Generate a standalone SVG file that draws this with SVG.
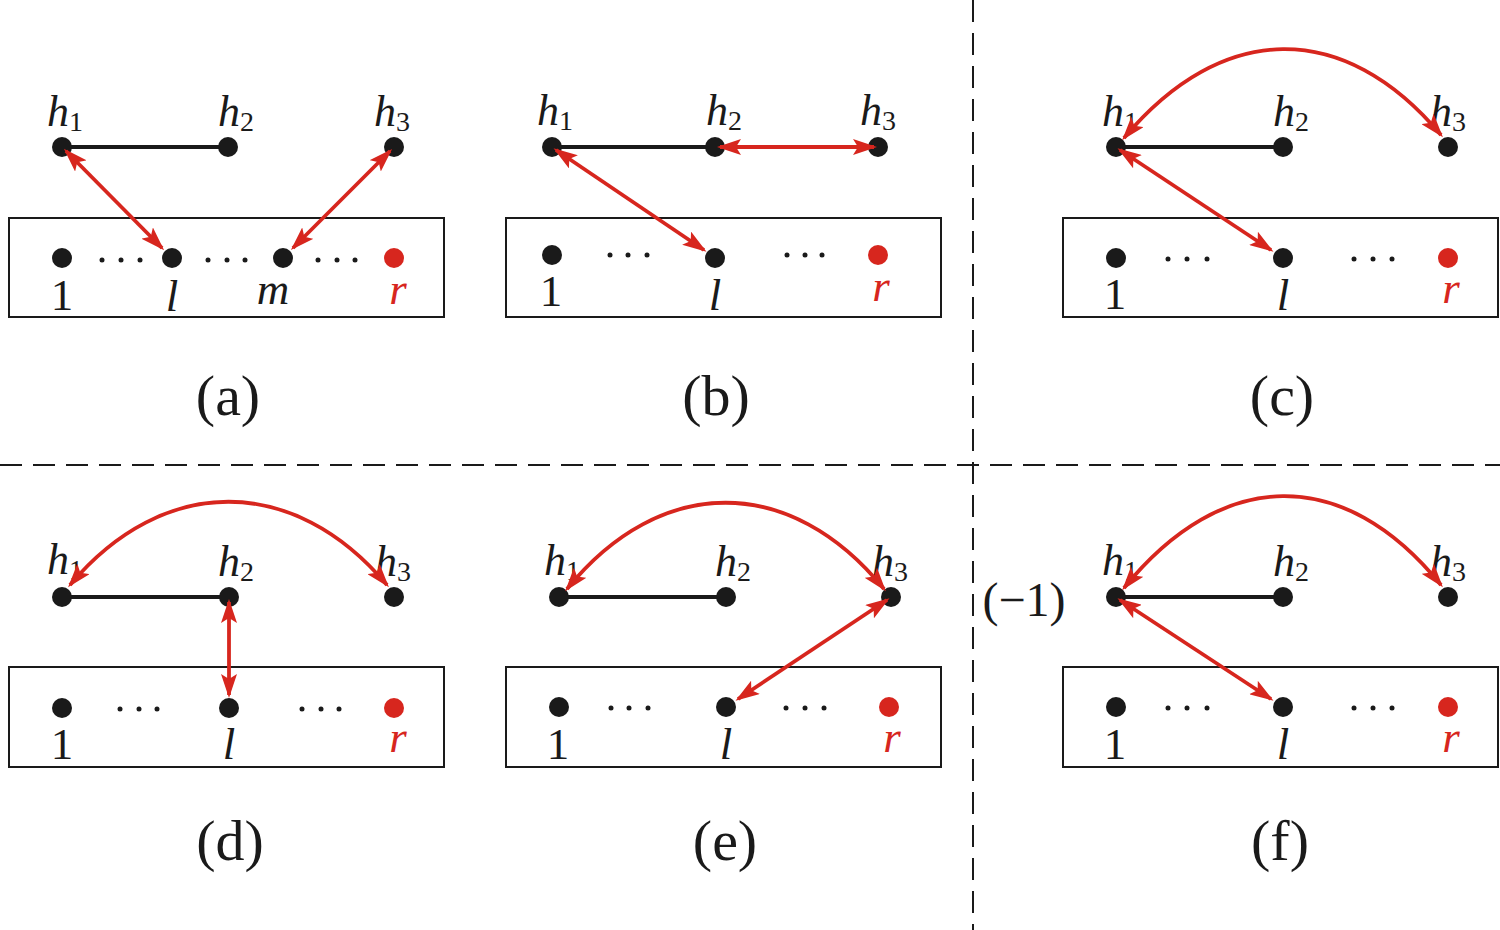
<svg xmlns="http://www.w3.org/2000/svg" width="1500" height="930" viewBox="0 0 1500 930">
<style>
.dot{fill:#1a1a1a}
.rdot{fill:#d7261e}
.sd{fill:#1a1a1a}
.box{fill:none;stroke:#1a1a1a;stroke-width:2}
.edge{stroke:#1a1a1a;stroke-width:4;fill:none}
.arr{stroke:#d7261e;stroke-width:3.8;fill:none;marker-start:url(#ah);marker-end:url(#ah)}
.dash{stroke:#1a1a1a;stroke-width:2;stroke-dasharray:22 11;fill:none}
.h{font-family:"Liberation Serif","Times New Roman",serif;font-style:italic;font-size:44px;fill:#1a1a1a}
.sub{font-style:normal;font-size:28px}
.n{font-family:"Liberation Serif","Times New Roman",serif;font-size:45px;fill:#1a1a1a;text-anchor:middle}
.it{font-family:"Liberation Serif","Times New Roman",serif;font-style:italic;font-size:45px;fill:#1a1a1a;text-anchor:middle}
.red{fill:#d7261e}
.cap{font-family:"Liberation Serif","Times New Roman",serif;font-size:58px;fill:#1a1a1a;text-anchor:middle}
</style>
<defs>
<marker id="ah" viewBox="0 0 24 16" refX="21" refY="8" markerWidth="24" markerHeight="16" markerUnits="userSpaceOnUse" orient="auto-start-reverse">
<path d="M0,0 L24,8 L0,16 L5,8 z" fill="#d7261e"/>
</marker>
</defs>
<rect width="1500" height="930" fill="#ffffff"/>

<g id="dividers">
<line class="dash" x1="0" y1="465" x2="1500" y2="465"/>
<line class="dash" x1="973" y1="0" x2="973" y2="930"/>
</g>

<!-- Panel (a) -->
<g id="panel-a">
<rect class="box" x="9" y="218" width="435" height="99"/>
<line class="edge" x1="62" y1="147" x2="228" y2="147"/>
<circle class="dot" cx="62" cy="147" r="10"/>
<circle class="dot" cx="228" cy="147" r="10"/>
<circle class="dot" cx="394" cy="147" r="10"/>
<text class="h" x="47" y="126">h<tspan class="sub" dy="5">1</tspan></text>
<text class="h" x="218" y="126">h<tspan class="sub" dy="5">2</tspan></text>
<text class="h" x="374" y="126">h<tspan class="sub" dy="5">3</tspan></text>
<circle class="dot" cx="62" cy="258" r="10"/>
<circle class="dot" cx="172" cy="258" r="10"/>
<circle class="dot" cx="283" cy="258" r="10"/>
<circle class="rdot" cx="394" cy="258" r="10"/>
<g class="sd">
<circle cx="102" cy="260" r="2.5"/><circle cx="121" cy="260" r="2.5"/><circle cx="140" cy="260" r="2.5"/>
<circle cx="208" cy="260" r="2.5"/><circle cx="227" cy="260" r="2.5"/><circle cx="245" cy="260" r="2.5"/>
<circle cx="318" cy="260" r="2.5"/><circle cx="337" cy="260" r="2.5"/><circle cx="355" cy="260" r="2.5"/>
</g>
<text class="n" x="62" y="310">1</text>
<text class="it" x="172" y="311">l</text>
<text class="it" x="273" y="304">m</text>
<text class="it red" x="398" y="304">r</text>
<text class="cap" x="228" y="415">(a)</text>
</g>

<!-- Panel (b) -->
<g id="panel-b">
<rect class="box" x="506" y="218" width="435" height="99"/>
<line class="edge" x1="552" y1="147" x2="715" y2="147"/>
<circle class="dot" cx="552" cy="147" r="10"/>
<circle class="dot" cx="715" cy="147" r="10"/>
<circle class="dot" cx="878" cy="147" r="10"/>
<text class="h" x="537" y="125">h<tspan class="sub" dy="5">1</tspan></text>
<text class="h" x="706" y="125">h<tspan class="sub" dy="5">2</tspan></text>
<text class="h" x="860" y="125">h<tspan class="sub" dy="5">3</tspan></text>
<circle class="dot" cx="552" cy="255" r="10"/>
<circle class="dot" cx="715" cy="258" r="10"/>
<circle class="rdot" cx="878" cy="255" r="10"/>
<g class="sd">
<circle cx="610" cy="255" r="2.5"/><circle cx="628" cy="255" r="2.5"/><circle cx="647" cy="255" r="2.5"/>
<circle cx="787" cy="255" r="2.5"/><circle cx="805" cy="255" r="2.5"/><circle cx="822" cy="255" r="2.5"/>
</g>
<text class="n" x="551" y="306">1</text>
<text class="it" x="715" y="310">l</text>
<text class="it red" x="881" y="301">r</text>
<text class="cap" x="716" y="415">(b)</text>
</g>

<!-- Panel (c) -->
<g id="panel-c">
<rect class="box" x="1063" y="218" width="435" height="99"/>
<line class="edge" x1="1116" y1="147" x2="1283" y2="147"/>
<circle class="dot" cx="1116" cy="147" r="10"/>
<circle class="dot" cx="1283" cy="147" r="10"/>
<circle class="dot" cx="1448" cy="147" r="10"/>
<text class="h" x="1102" y="126">h<tspan class="sub" dy="5">1</tspan></text>
<text class="h" x="1273" y="126">h<tspan class="sub" dy="5">2</tspan></text>
<text class="h" x="1430" y="126">h<tspan class="sub" dy="5">3</tspan></text>
<circle class="dot" cx="1116" cy="258" r="10"/>
<circle class="dot" cx="1283" cy="258" r="10"/>
<circle class="rdot" cx="1448" cy="258" r="10"/>
<g class="sd">
<circle cx="1168" cy="259" r="2.5"/><circle cx="1187" cy="259" r="2.5"/><circle cx="1207" cy="259" r="2.5"/>
<circle cx="1354" cy="259" r="2.5"/><circle cx="1373" cy="259" r="2.5"/><circle cx="1392" cy="259" r="2.5"/>
</g>
<text class="n" x="1115" y="309">1</text>
<text class="it" x="1283" y="310">l</text>
<text class="it red" x="1451" y="303">r</text>
<text class="cap" x="1282" y="415">(c)</text>
</g>

<!-- Panel (d) -->
<g id="panel-d">
<rect class="box" x="9" y="667" width="435" height="100"/>
<line class="edge" x1="62" y1="597" x2="229" y2="597"/>
<circle class="dot" cx="62" cy="597" r="10"/>
<circle class="dot" cx="229" cy="597" r="10"/>
<circle class="dot" cx="394" cy="597" r="10"/>
<text class="h" x="47" y="574">h<tspan class="sub" dy="5">1</tspan></text>
<text class="h" x="218" y="576">h<tspan class="sub" dy="5">2</tspan></text>
<text class="h" x="375" y="576">h<tspan class="sub" dy="5">3</tspan></text>
<circle class="dot" cx="62" cy="708" r="10"/>
<circle class="dot" cx="229" cy="708" r="10"/>
<circle class="rdot" cx="394" cy="708" r="10"/>
<g class="sd">
<circle cx="120" cy="709" r="2.5"/><circle cx="139" cy="709" r="2.5"/><circle cx="157" cy="709" r="2.5"/>
<circle cx="302" cy="709" r="2.5"/><circle cx="321" cy="709" r="2.5"/><circle cx="339" cy="709" r="2.5"/>
</g>
<text class="n" x="62" y="759">1</text>
<text class="it" x="229" y="759">l</text>
<text class="it red" x="398" y="752">r</text>
<text class="cap" x="230" y="860">(d)</text>
</g>

<!-- Panel (e) -->
<g id="panel-e">
<rect class="box" x="506" y="667" width="435" height="100"/>
<line class="edge" x1="559" y1="597" x2="726" y2="597"/>
<circle class="dot" cx="559" cy="597" r="10"/>
<circle class="dot" cx="726" cy="597" r="10"/>
<circle class="dot" cx="891" cy="597" r="10"/>
<text class="h" x="544" y="575">h<tspan class="sub" dy="5">1</tspan></text>
<text class="h" x="715" y="576">h<tspan class="sub" dy="5">2</tspan></text>
<text class="h" x="872" y="576">h<tspan class="sub" dy="5">3</tspan></text>
<circle class="dot" cx="559" cy="707" r="10"/>
<circle class="dot" cx="726" cy="707" r="10"/>
<circle class="rdot" cx="889" cy="707" r="10"/>
<g class="sd">
<circle cx="611" cy="708" r="2.5"/><circle cx="629" cy="708" r="2.5"/><circle cx="648" cy="708" r="2.5"/>
<circle cx="786" cy="708" r="2.5"/><circle cx="805" cy="708" r="2.5"/><circle cx="824" cy="708" r="2.5"/>
</g>
<text class="n" x="558" y="759">1</text>
<text class="it" x="726" y="759">l</text>
<text class="it red" x="892" y="752">r</text>
<text class="cap" x="725" y="860">(e)</text>
</g>

<!-- Panel (f) -->
<g id="panel-f">
<text class="n" x="1024" y="616" style="font-size:48px">(−1)</text>
<rect class="box" x="1063" y="667" width="435" height="100"/>
<line class="edge" x1="1116" y1="597" x2="1283" y2="597"/>
<circle class="dot" cx="1116" cy="597" r="10"/>
<circle class="dot" cx="1283" cy="597" r="10"/>
<circle class="dot" cx="1448" cy="597" r="10"/>
<text class="h" x="1102" y="575">h<tspan class="sub" dy="5">1</tspan></text>
<text class="h" x="1273" y="576">h<tspan class="sub" dy="5">2</tspan></text>
<text class="h" x="1430" y="576">h<tspan class="sub" dy="5">3</tspan></text>
<circle class="dot" cx="1116" cy="707" r="10"/>
<circle class="dot" cx="1283" cy="707" r="10"/>
<circle class="rdot" cx="1448" cy="707" r="10"/>
<g class="sd">
<circle cx="1168" cy="708" r="2.5"/><circle cx="1187" cy="708" r="2.5"/><circle cx="1207" cy="708" r="2.5"/>
<circle cx="1354" cy="708" r="2.5"/><circle cx="1373" cy="708" r="2.5"/><circle cx="1392" cy="708" r="2.5"/>
</g>
<text class="n" x="1115" y="759">1</text>
<text class="it" x="1283" y="759">l</text>
<text class="it red" x="1451" y="752">r</text>
<text class="cap" x="1280" y="860">(f)</text>
</g>

<g id="connectors">
<!-- a -->
<line class="arr" x1="66" y1="151" x2="162" y2="248"/>
<line class="arr" x1="390" y1="151" x2="293" y2="248"/>
<!-- b -->
<line class="arr" x1="556" y1="150" x2="704" y2="250"/>
<line class="arr" x1="720" y1="147" x2="874" y2="147"/>
<!-- c -->
<path class="arr" d="M1124,138 C1222,21 1344,19 1441,135"/>
<line class="arr" x1="1120" y1="150" x2="1271" y2="250"/>
<!-- d -->
<path class="arr" d="M70,585 C163,474 294,474 387,585"/>
<line class="arr" x1="229" y1="602" x2="229" y2="695"/>
<!-- e -->
<path class="arr" d="M567,589 C660,474 791,474 884,589"/>
<line class="arr" x1="887" y1="600" x2="738" y2="699"/>
<!-- f -->
<path class="arr" d="M1124,588 C1222,467 1344,465 1441,585"/>
<line class="arr" x1="1120" y1="600" x2="1271" y2="699"/>
</g>
</svg>
